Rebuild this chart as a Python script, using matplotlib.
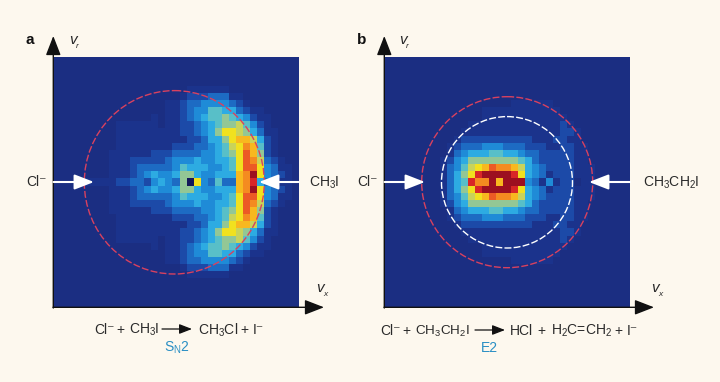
import matplotlib
matplotlib.use("Agg")
import matplotlib.pyplot as plt
from matplotlib.colors import ListedColormap
from matplotlib.patches import Ellipse
import numpy as np

plt.rcParams['font.family'] = ['Liberation Sans', 'DejaVu Sans']
plt.rcParams['mathtext.fontset'] = 'custom'
plt.rcParams['mathtext.rm'] = 'Liberation Sans'
plt.rcParams['mathtext.it'] = 'Liberation Sans:italic'
plt.rcParams['mathtext.default'] = 'rm'

# Intensity level of each cell, one hex digit per cell
# rows run from the top edge down to the middle row, the lower half mirrors them
panel_a_rows = [
    "00000 00000 00000 00000 00000 00000 00000",
    "00000 00000 00000 00000 00000 00000 00000",
    "00000 00000 00000 00000 00000 00000 00000",
    "00000 00000 00000 00000 00000 00000 00000",
    "00000 00000 00000 00001 11111 00000 00000",
    "00000 00000 00000 00012 22333 11000 00000",
    "00000 00000 00000 01123 34444 32100 00000",
    "00000 00000 00000 01123 44665 53211 00000",
    "00000 00000 00001 01123 45667 65421 10000",
    "00000 00001 11111 01122 34567 78642 10000",
    "00000 00001 11111 11122 34579 98753 11000",
    "00000 00001 11111 11112 23557 9aa85 21000",
    "00000 00001 11111 11222 33456 89ba6 21000",
    "00000 00011 11112 22333 34456 79ca7 21000",
    "00000 00011 12222 23444 54455 69cb8 32100",
    "00000 00011 12333 33465 55445 69cc9 43110",
    "00000 00011 12345 44577 54455 5abe9 43210",
    "00001 11112 23324 5437f 94363 3abd5 32110",
]
panel_b_rows = [
    "00000 00000 00000 00000 00000 00000 00000",
    "00000 00000 00000 00000 00000 00000 00000",
    "00000 00000 00000 00000 00000 00000 00000",
    "00000 00000 00000 00000 00000 00000 00000",
    "00000 00000 00000 00000 00000 00000 00000",
    "00000 00000 00000 00000 00000 00000 00000",
    "00000 00000 00000 00011 11110 00000 00000",
    "00000 00000 00001 11111 11111 00000 00000",
    "00000 00000 00001 11111 11111 10000 00000",
    "00000 00000 00111 11111 11111 21000 00000",
    "00000 00000 01111 11111 11111 22100 00000",
    "00000 00000 12222 22222 21112 21100 00000",
    "00000 00001 23334 44333 22211 22110 00000",
    "00000 00001 34555 66554 33222 22110 00000",
    "00000 00012 45777 77776 53222 22110 00000",
    "00000 00013 4689a cbba8 54322 22111 00000",
    "00000 00013 579de eeed9 54312 22111 00000",
    "00000 00013 56dbb eaeee 43141 22011 00000",
]

level_colors = ["#1b2e82", "#1b338c", "#1c4aa8", "#1d6bc3", "#1f8bd7", "#2dabe2",
                "#58bfc8", "#93c795", "#c9d35a", "#f1e11f", "#f8b81f", "#f48b20",
                "#ec5a25", "#d82727", "#9c1020", "#14195a"]

panel_a_box = (53.3, 298.7, 307.3, 57.7)
panel_b_box = (384.3, 630.3, 307.3, 58.0)
rings_a = [(174.3, 182.3, 90.0, 91.7, "#d9415f")]
rings_b = [(507.2, 182.2, 85.5, 85.5, "#d9415f"), (507.0, 182.3, 65.5, 65.7, "#ffffff")]


def to_grid(rows):
    top = [[int(c, 16) for c in r.replace(" ", "")] for r in rows]
    return np.array(top + top[-2::-1])


def arrow(ax, start, end, color, lw=1.5, scale=14):
    ax.annotate("", xy=end, xytext=start, zorder=5,
                arrowprops=dict(arrowstyle="-|>,head_length=0.85,head_width=0.33", color=color,
                                lw=lw, mutation_scale=scale, shrinkA=0, shrinkB=0))


def draw_map(ax, rows, box, rings):
    cmap = ListedColormap(level_colors)
    ax.imshow(to_grid(rows), cmap=cmap, vmin=-0.5, vmax=15.5, extent=box,
              interpolation="nearest", aspect="auto", zorder=1)
    for cx, cy, rx, ry, color in rings:
        ax.add_patch(Ellipse((cx, cy), 2*rx, 2*ry, fill=False, edgecolor=color, lw=1.0,
                             linestyle=(0, (5, 1.6)), zorder=3))


def velocity(ax, x, y, sub):
    ax.text(x, y, "v", style="italic", color="#2a2a2a", fontsize=11, va="center")
    ax.text(x + 7, y + 6.5, sub, style="italic", color="#2a2a2a", fontsize=6, va="center")


fig = plt.figure(figsize=(7.2, 3.82), dpi=100, facecolor="#fdf8ee")
ax = fig.add_axes([0, 0, 1, 1])
ax.set_axis_off()

draw_map(ax, panel_a_rows, panel_a_box, rings_a)
draw_map(ax, panel_b_rows, panel_b_box, rings_b)
ax.set_xlim(0, 720)
ax.set_ylim(382, 0)

# axis arrows
arrow(ax, (53.3, 308), (53.3, 36), "#111111", lw=1.0)
arrow(ax, (53, 307.3), (324, 307.3), "#111111", lw=1.0)
arrow(ax, (384.3, 308), (384.3, 36), "#111111", lw=1.0)
arrow(ax, (384, 307.3), (654, 307.3), "#111111", lw=1.0)

# white beam arrows
arrow(ax, (53.5, 182), (94, 182), "white")
arrow(ax, (298.5, 182), (259, 182), "white")
arrow(ax, (384.5, 182), (425, 182), "white")
arrow(ax, (630, 182), (589, 182), "white")

txt = dict(color="#2a2a2a", fontsize=10, va="center")
ax.text(26, 39.5, "a", fontweight="bold", color="#111111", fontsize=11, va="center")
ax.text(357, 39.5, "b", fontweight="bold", color="#111111", fontsize=11, va="center")
velocity(ax, 69, 40, "r")
velocity(ax, 399, 40, "r")
velocity(ax, 316, 288, "x")
velocity(ax, 651, 288, "x")
ax.text(26, 182, "Cl\u207b", **txt)
ax.text(309, 183, r"CH$_{3}$I", **txt)
ax.text(357, 182, "Cl\u207b", **txt)
ax.text(643, 183, r"CH$_{3}$CH$_{2}$I", **txt)

# the superscript minus is not in the mathtext font, so each term is its own text
ax.text(94, 330, "Cl\u207b", **txt)
ax.text(116, 330, "+", **txt)
ax.text(129, 330, r"CH$_{3}$I", **txt)
arrow(ax, (162, 329), (192, 329), "#111111", lw=0.9, scale=9)
ax.text(198, 330, r"CH$_{3}$Cl", **txt)
ax.text(240, 330, "+", **txt)
ax.text(253, 330, "I\u207b", **txt)
ax.text(164, 348, r"S$_{\mathrm{N}}$2", color="#2a8fc4", fontsize=10, va="center")

ax.text(380, 331, "Cl\u207b", **txt)
ax.text(402, 331, "+", **txt)
ax.text(415, 331, r"CH$_{3}$CH$_{2}$I", color="#2a2a2a", fontsize=9.7, va="center")
arrow(ax, (475, 330), (505, 330), "#111111", lw=0.9, scale=9)
ax.text(510, 331, "HCl", **txt)
ax.text(537, 331, "+", **txt)
ax.text(551, 331, r"H$_{2}$C=CH$_{2}$", **txt)
ax.text(614, 331, "+", **txt)
ax.text(627, 331, "I\u207b", **txt)
ax.text(481, 348, "E2", color="#2a8fc4", fontsize=10, va="center")

fig.savefig("out.png", dpi=100, facecolor=fig.get_facecolor())
